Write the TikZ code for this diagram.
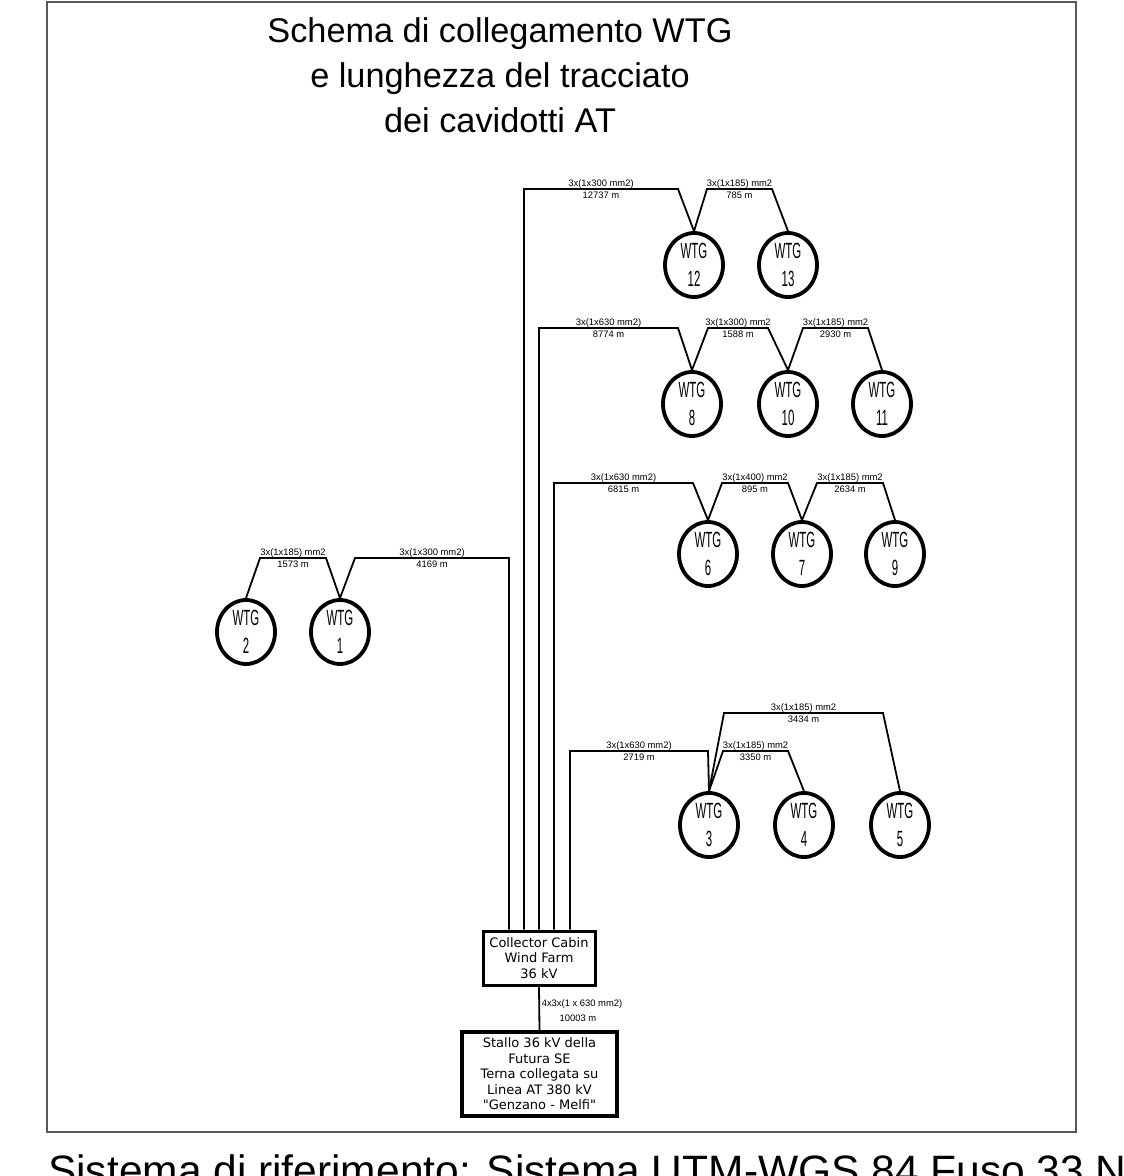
\documentclass[tikz,border=0pt]{standalone}
\usepackage{fontspec}
\usepackage{graphicx}
\setmainfont{Liberation Sans}
\newfontfamily\boxfont{DejaVu Sans}
\usetikzlibrary{shapes.geometric}
\newcommand\condtxt[1]{\scalebox{0.52}[1]{#1}}
\begin{document}
\begin{tikzpicture}[x=1pt,y=-1pt,
  wtg/.style={ellipse, draw, line width=3.8pt, minimum width=58pt, minimum height=64pt,
    inner sep=0pt, align=center, font=\fontsize{22}{28}\selectfont},
  cable/.style={line width=1.8pt, line join=miter},
  lab/.style={font=\fontsize{9.4}{11}\selectfont, inner sep=0pt, anchor=base, midway},
  labup/.style={lab, yshift=3pt},
  labdn/.style={lab, yshift=-9pt},
  boxn/.style={draw, line width=3pt, align=center, inner sep=0pt,
    font=\boxfont\fontsize{13}{15.5}\selectfont},
  framecol/.style={draw=black!65, line width=1.6pt},
]
\useasboundingbox (0,0) rectangle (1124,1176);
\path[fill=white] (0,0) rectangle (1124,1176);

% frame
\draw[framecol] (47,2) rectangle (1076,1132);

% title
\node[anchor=base, font=\fontsize{34.3}{45}\selectfont, inner sep=0pt] (title1) at (500,42) {Schema di collegamento WTG};
\node[anchor=base, font=\fontsize{34.3}{45}\selectfont, inner sep=0pt] (title2) at (500,87) {e lunghezza del tracciato};
\node[anchor=base, font=\fontsize{34.3}{45}\selectfont, inner sep=0pt] (title3) at (500,132) {dei cavidotti AT};

% bottom text
\node[anchor=base west, font=\fontsize{42.5}{50}\selectfont, inner sep=0pt] (ref) at (48,1185) {Sistema di riferimento: Sistema UTM-WGS 84 Fuso 33 N};

% boxes
\node[boxn, minimum width=112pt, minimum height=54pt] (cab) at (539,958)
  {Collector Cabin\\Wind Farm\\36 kV};
\node[boxn, line width=3.3pt, minimum width=155pt, minimum height=84pt] (se) at (539.5,1074)
  {Stallo 36 kV della\\Futura SE\\Terna collegata su\\Linea AT 380 kV\\"Genzano - Melfi"};

% WTG
\node[wtg] (w12) at (694,265) {\condtxt{WTG}\\\condtxt{12}};
\node[wtg] (w13) at (788,265) {\condtxt{WTG}\\\condtxt{13}};
\node[wtg] (w8)  at (692,404) {\condtxt{WTG}\\\condtxt{8}};
\node[wtg] (w10) at (788,404) {\condtxt{WTG}\\\condtxt{10}};
\node[wtg] (w11) at (882,404) {\condtxt{WTG}\\\condtxt{11}};
\node[wtg] (w6)  at (708,554) {\condtxt{WTG}\\\condtxt{6}};
\node[wtg] (w7)  at (802,554) {\condtxt{WTG}\\\condtxt{7}};
\node[wtg] (w9)  at (895,554) {\condtxt{WTG}\\\condtxt{9}};
\node[wtg] (w2)  at (246,632) {\condtxt{WTG}\\\condtxt{2}};
\node[wtg] (w1)  at (340,632) {\condtxt{WTG}\\\condtxt{1}};
\node[wtg] (w3)  at (709,825) {\condtxt{WTG}\\\condtxt{3}};
\node[wtg] (w4)  at (804,825) {\condtxt{WTG}\\\condtxt{4}};
\node[wtg] (w5)  at (900,825) {\condtxt{WTG}\\\condtxt{5}};

% trunk corners
\coordinate (k1) at (509,558);
\coordinate (k2) at (524,189);
\coordinate (k3) at (539,328);
\coordinate (k4) at (554,483);
\coordinate (k5) at (570,751);

% group 12/13
\draw[cable] (cab.north -| k2) -- (k2) -- node[labup]{3x(1x300 mm2)} node[labdn]{12737 m} (678,189) -- (w12.north);
\draw[cable] (w12.north) -- (707,189) -- node[labup]{3x(1x185) mm2} node[labdn]{785 m} (772,189) -- (w13.north);

% group 8/10/11
\draw[cable] (cab.north -| k3) -- (k3) -- node[labup]{3x(1x630 mm2)} node[labdn]{8774 m} (678,328) -- (w8.north);
\draw[cable] (w8.north) -- (708,328) -- node[labup]{3x(1x300) mm2} node[labdn]{1588 m} (768,328) -- (w10.north);
\draw[cable] (w10.north) -- (803,328) -- node[labup]{3x(1x185) mm2} node[labdn]{2930 m} (868,328) -- (w11.north);

% group 6/7/9
\draw[cable] (cab.north -| k4) -- (k4) -- node[labup]{3x(1x630 mm2)} node[labdn]{6815 m} (693,483) -- (w6.north);
\draw[cable] (w6.north) -- (722,483) -- node[labup]{3x(1x400) mm2} node[labdn]{895 m} (788,483) -- (w7.north);
\draw[cable] (w7.north) -- (817,483) -- node[labup]{3x(1x185) mm2} node[labdn]{2634 m} (883,483) -- (w9.north);

% group 1/2
\draw[cable] (cab.north -| k1) -- (k1) -- node[labup]{3x(1x300 mm2)} node[labdn]{4169 m} (355,558) -- (w1.north);
\draw[cable] (w1.north) -- (326,558) -- node[labup]{3x(1x185) mm2} node[labdn]{1573 m} (260,558) -- (w2.north);

% group 3/4/5
\draw[cable] (cab.north -| k5) -- (k5) -- node[labup]{3x(1x630 mm2)} node[labdn]{2719 m} (708,751) -- (w3.north);
\draw[cable] (w3.north) -- (723,751) -- node[labup]{3x(1x185) mm2} node[labdn]{3350 m} (788,751) -- (w4.north);
\draw[cable] (w3.north) -- (724,713) -- node[labup]{3x(1x185) mm2} node[labdn]{3434 m} (883,713) -- (w5.north);

% cabin to SE
\draw[cable] (cab.south) -- (se.north);
\node[font=\fontsize{9.4}{11}\selectfont, inner sep=0pt, anchor=base] (l1) at (582,1006) {4x3x(1 x 630 mm2)};
\node[font=\fontsize{9.4}{11}\selectfont, inner sep=0pt, anchor=base] (l2) at (578,1021) {10003 m};
\end{tikzpicture}
\end{document}
